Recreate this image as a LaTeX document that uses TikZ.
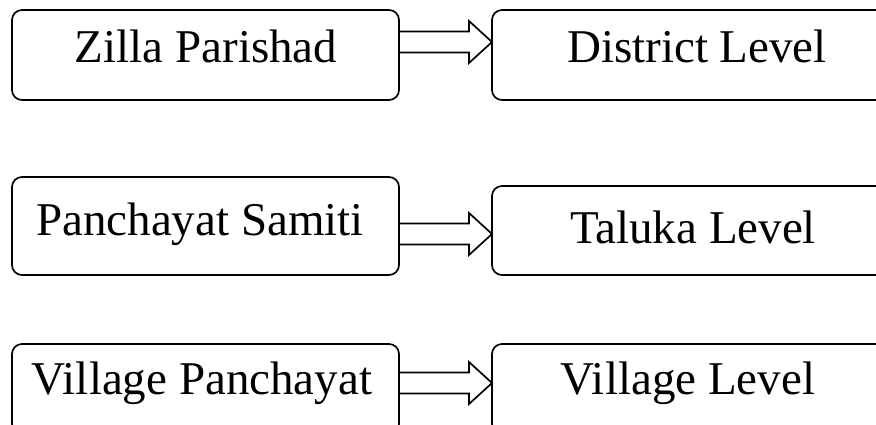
\documentclass[tikz,border=0pt]{standalone}
\usepackage{fontspec}
\setmainfont{Liberation Serif}
\usetikzlibrary{calc}
\begin{document}
\begin{tikzpicture}[x=1pt,y=-1pt,
  box/.style={draw, line width=1.7pt, rounded corners=10pt, minimum width=387pt, minimum height=90pt, inner sep=0pt, outer sep=0pt},
  rbox/.style={box, minimum width=410pt},
  lbl/.style={anchor=base, font=\fontsize{47}{56}\selectfont, inner sep=0pt},
  darrow/.style={draw, line width=1.7pt, line join=miter}]
\clip (0,0) rectangle (876,425);
% row 1
\node[box] (zb) at (205.5,55) {};
\node[rbox] (db) at (697,55) {};
\node[lbl] (zt) at (206,63) {Zilla Parishad};
\node[lbl] (dt) at (697,63) {District Level};
% row 2
\node[box, minimum height=98pt] (pb) at (205.5,226) {};
\node[rbox, minimum height=89pt] (tb) at (697,230.5) {};
\node[lbl] (pt) at (200,236) {Panchayat Samiti};
\node[lbl] (tt) at (693,243) {Taluka Level};
% row 3
\node[box] (vb) at (205.5,389) {};
\node[rbox] (lb) at (697,389) {};
\node[lbl] (vt) at (202,394) {Village Panchayat};
\node[lbl] (lt) at (688,394) {Village Level};
% arrows
\coordinate (s1) at (zb.east |- 0,42);
\coordinate (t1) at (db.west |- 0,42);
\coordinate (s2) at (pb.east |- 0,234);
\coordinate (t2) at (tb.west |- 0,234);
\coordinate (s3) at (vb.east |- 0,383);
\coordinate (t3) at (lb.west |- 0,383);
\foreach \s/\t in {s1/t1,s2/t2,s3/t3}{
  \draw[darrow] ([yshift=10.5pt]\s) -- ([xshift=-23pt,yshift=10.5pt]\t) -- ([xshift=-23pt,yshift=21pt]\t) -- (\t) -- ([xshift=-23pt,yshift=-21pt]\t) -- ([xshift=-23pt,yshift=-10.5pt]\t) -- ([yshift=-10.5pt]\s);
}
\end{tikzpicture}
\end{document}
